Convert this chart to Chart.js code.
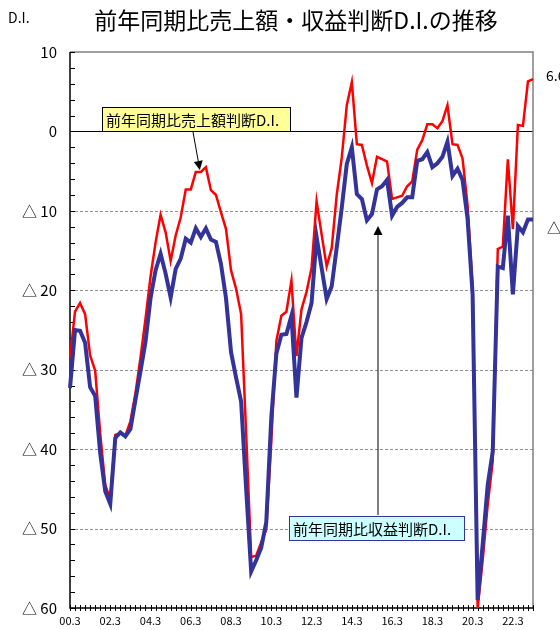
<!DOCTYPE html>
<html>
<head>
<meta charset="utf-8">
<script src="https://cdn.jsdelivr.net/npm/chart.js@4.4.0/dist/chart.umd.min.js"></script>
<style>
  body { margin: 0; background: #fff; }
</style>
</head>
<body>
<canvas id="myChart" width="560" height="630"></canvas>
<script>
// quarters, 2000/3 .. 2023/3
const quarters = [
  '00.3','00.6','00.9','00.12', '01.3','01.6','01.9','01.12', '02.3','02.6','02.9','02.12',
  '03.3','03.6','03.9','03.12', '04.3','04.6','04.9','04.12', '05.3','05.6','05.9','05.12',
  '06.3','06.6','06.9','06.12', '07.3','07.6','07.9','07.12', '08.3','08.6','08.9','08.12',
  '09.3','09.6','09.9','09.12', '10.3','10.6','10.9','10.12', '11.3','11.6','11.9','11.12',
  '12.3','12.6','12.9','12.12', '13.3','13.6','13.9','13.12', '14.3','14.6','14.9','14.12',
  '15.3','15.6','15.9','15.12', '16.3','16.6','16.9','16.12', '17.3','17.6','17.9','17.12',
  '18.3','18.6','18.9','18.12', '19.3','19.6','19.9','19.12', '20.3','20.6','20.9','20.12',
  '21.3','21.6','21.9','21.12', '22.3','22.6','22.9','22.12', '23.3'
];

// 前年同期比売上額判断D.I.
const salesDI = [
  -28.5, -22.7, -21.6, -23.0, -28.2, -30.1, -38.0, -44.5, -46.3, -38.2, -38.0, -38.3,
  -36.5, -33.0, -28.5, -23.6, -18.3, -14.0, -10.5, -12.7, -16.3, -13.1, -10.8, -7.3,
  -7.3, -5.1, -5.1, -4.5, -7.4, -8.0, -10.2, -12.3, -17.5, -19.8, -23.0, -38.0,
  -53.6, -53.4, -51.7, -50.1, -39.0, -26.4, -23.2, -22.7, -18.8, -28.3, -22.4, -20.2,
  -17.2, -8.8, -13.0, -17.0, -14.7, -8.0, -3.3, 3.3, 6.2, -1.6, -1.7, -4.3,
  -6.5, -3.2, -3.5, -3.8, -8.5, -8.3, -8.1, -6.9, -6.3, -2.3, -1.1, 0.9,
  0.9, 0.4, 1.3, 3.3, -1.6, -1.7, -3.4, -9.3, -19.7, -60.0, -54.0, -47.0,
  -41.5, -14.8, -14.5, -3.5, -12.3, 0.8, 0.7, 6.3, 6.6
];

// 前年同期比収益判断D.I.
const profitDI = [
  -32.3, -25.0, -25.1, -26.6, -32.2, -33.3, -40.5, -45.3, -46.9, -38.6, -37.9, -38.4,
  -37.5, -33.8, -30.2, -26.5, -21.0, -17.5, -15.4, -17.9, -20.9, -17.3, -16.0, -13.5,
  -14.0, -12.2, -13.3, -12.2, -13.6, -13.9, -16.7, -21.0, -27.8, -31.0, -34.0, -45.0,
  -55.4, -54.0, -52.4, -49.2, -36.0, -28.0, -25.6, -25.5, -23.2, -33.5, -26.0, -24.0,
  -21.6, -13.3, -17.2, -21.1, -19.5, -14.6, -9.6, -4.1, -2.0, -7.9, -8.5, -11.2,
  -10.4, -7.3, -6.9, -6.1, -10.6, -9.5, -9.0, -8.3, -8.3, -3.7, -3.5, -2.6,
  -4.5, -4.0, -3.2, -1.3, -5.6, -4.7, -6.1, -11.0, -20.5, -59.0, -52.0, -44.5,
  -40.3, -17.0, -17.2, -10.6, -20.5, -11.9, -12.7, -11.1, -11.1
];

const yTicks = [10, 0, -10, -20, -30, -40, -50, -60];
const xLabelEvery = 8;

const FONT = "'Noto Sans CJK JP', 'Noto Sans', sans-serif";

function fmt(v) {
  return v < 0 ? '△ ' + Math.abs(v) : String(v);
}

const decor = {
  id: 'decor',
  beforeDraw(chart) {
    const ctx = chart.ctx;
    ctx.save();
    ctx.fillStyle = '#fff';
    ctx.fillRect(0, 0, chart.width, chart.height);
    ctx.fillStyle = '#000';
    ctx.textBaseline = 'middle';
    ctx.font = '14px ' + FONT;
    ctx.textAlign = 'left';
    ctx.fillText('D.I.', 8, 18);
    ctx.font = '23px ' + FONT;
    ctx.textAlign = 'center';
    ctx.fillText('前年同期比売上額・収益判断D.I.の推移', 296, 20);
    ctx.restore();
  },
  beforeDatasetsDraw(chart) {
    const ctx = chart.ctx;
    const a = chart.chartArea;
    const y = chart.scales.y;
    const x = chart.scales.x;
    ctx.save();
    // dashed grid
    ctx.strokeStyle = '#909090';
    ctx.lineWidth = 1;
    ctx.setLineDash([3, 2]);
    yTicks.forEach(v => {
      if (v >= 0 || v <= -60) return;
      const py = Math.round(y.getPixelForValue(v)) + 0.5;
      ctx.beginPath(); ctx.moveTo(a.left, py); ctx.lineTo(a.right, py); ctx.stroke();
    });
    ctx.setLineDash([]);
    // zero line
    let py0 = Math.round(y.getPixelForValue(0)) + 0.5;
    ctx.strokeStyle = '#000';
    ctx.beginPath(); ctx.moveTo(a.left, py0); ctx.lineTo(a.right, py0); ctx.stroke();
    // top / right border
    ctx.strokeStyle = '#808080';
    ctx.lineWidth = 1.5;
    ctx.beginPath();
    ctx.moveTo(a.left, a.top); ctx.lineTo(a.right, a.top); ctx.lineTo(a.right, a.bottom);
    ctx.stroke();
    // left / bottom axis
    ctx.strokeStyle = '#000';
    ctx.lineWidth = 1.5;
    ctx.beginPath();
    ctx.moveTo(a.left, a.top); ctx.lineTo(a.left, a.bottom); ctx.lineTo(a.right, a.bottom);
    ctx.stroke();
    // y ticks every 2
    ctx.lineWidth = 1;
    for (let v = 10; v >= -60; v -= 2) {
      const p = Math.round(y.getPixelForValue(v)) + 0.5;
      ctx.beginPath(); ctx.moveTo(a.left, p); ctx.lineTo(a.left + 5, p); ctx.stroke();
    }
    // x ticks each quarter
    for (let i = 0; i < quarters.length; i++) {
      const p = Math.round(x.getPixelForValue(i)) + 0.5;
      ctx.beginPath(); ctx.moveTo(p, a.bottom - 3); ctx.lineTo(p, a.bottom + 3); ctx.stroke();
    }
    ctx.restore();
  },
  afterDatasetsDraw(chart) {
    const ctx = chart.ctx;
    const a = chart.chartArea;
    const y = chart.scales.y;
    const x = chart.scales.x;
    ctx.save();
    ctx.font = '15px ' + FONT;
    ctx.textBaseline = 'middle';

    // sales label
    ctx.fillStyle = '#FFFF99';
    ctx.fillRect(102, 107, 188, 24);
    ctx.strokeStyle = '#000';
    ctx.lineWidth = 1;
    ctx.strokeRect(102.5, 107.5, 188, 24);
    ctx.fillStyle = '#000';
    ctx.textAlign = 'left';
    ctx.fillText('前年同期比売上額判断D.I.', 106, 120);
    arrow(ctx, 193, 132, x.getPixelForValue(26) - 1, y.getPixelForValue(salesDI[26]) - 2);

    // profit label
    ctx.fillStyle = '#CCFFFF';
    ctx.fillRect(289, 516, 175, 24);
    ctx.strokeStyle = '#333399';
    ctx.strokeRect(289.5, 516.5, 175, 24);
    ctx.fillStyle = '#000';
    ctx.fillText('前年同期比収益判断D.I.', 293, 529);
    arrow(ctx, 378, 515, 378, y.getPixelForValue(-11.9));

    // last values, clipped at the canvas edge
    const last = quarters.length - 1;
    ctx.font = '14px ' + FONT;
    ctx.textAlign = 'left';
    ctx.fillText(fmt(salesDI[last]), a.right + 13, y.getPixelForValue(salesDI[last]) - 3);
    ctx.fillText(fmt(profitDI[last]), a.right + 14, y.getPixelForValue(profitDI[last]) + 8);
    ctx.restore();
  }
};

function arrow(ctx, x1, y1, x2, y2) {
  ctx.save();
  ctx.strokeStyle = '#000';
  ctx.fillStyle = '#000';
  ctx.lineWidth = 1;
  const ang = Math.atan2(y2 - y1, x2 - x1);
  const len = 9, w = 4.5;
  const bx = x2 - len * Math.cos(ang), by = y2 - len * Math.sin(ang);
  ctx.beginPath(); ctx.moveTo(x1, y1); ctx.lineTo(bx, by); ctx.stroke();
  ctx.beginPath();
  ctx.moveTo(x2, y2);
  ctx.lineTo(bx + w * Math.sin(ang), by - w * Math.cos(ang));
  ctx.lineTo(bx - w * Math.sin(ang), by + w * Math.cos(ang));
  ctx.closePath();
  ctx.fill();
  ctx.restore();
}

const ctx = document.getElementById('myChart');
const myChart = new Chart(ctx, {
  type: 'line',
  data: {
    labels: quarters,
    datasets: [{
      label: '前年同期比売上額判断D.I.',
      data: salesDI,
      borderColor: '#FF0000',
      borderWidth: 2.5,
      pointRadius: 0,
      tension: 0,
      order: 1
    },
    {
      label: '前年同期比収益判断D.I.',
      data: profitDI,
      borderColor: '#333399',
      borderWidth: 4,
      pointRadius: 0,
      tension: 0,
      order: 0
    }]
  },
  options: {
    responsive: false,
    animation: false,
    devicePixelRatio: 1,
    layout: { padding: { top: 52, right: 27, left: 0, bottom: 0 } },
    plugins: {
      legend: { display: false },
      tooltip: { enabled: false },
      title: { display: false }
    },
    scales: {
      x: {
        type: 'category',
        offset: false,
        grid: { display: false, drawTicks: false },
        border: { display: false },
        ticks: {
          autoSkip: false,
          maxRotation: 0,
          padding: 6,
          color: '#000',
          font: { family: FONT, size: 11 },
          callback: function (val, i) { return i % xLabelEvery === 0 ? quarters[i] : ''; }
        },
        afterFit: s => { s.height = 20; }
      },
      y: {
        min: -60,
        max: 10,
        grid: { display: false, drawTicks: false },
        border: { display: false },
        afterBuildTicks: s => { s.ticks = yTicks.map(v => ({ value: v })); },
        ticks: {
          padding: 13,
          color: '#000',
          font: { family: FONT, size: 15 },
          callback: v => fmt(v)
        },
        afterFit: s => { s.width = 70; }
      }
    }
  },
  plugins: [decor]
});
</script>
</body>
</html>
